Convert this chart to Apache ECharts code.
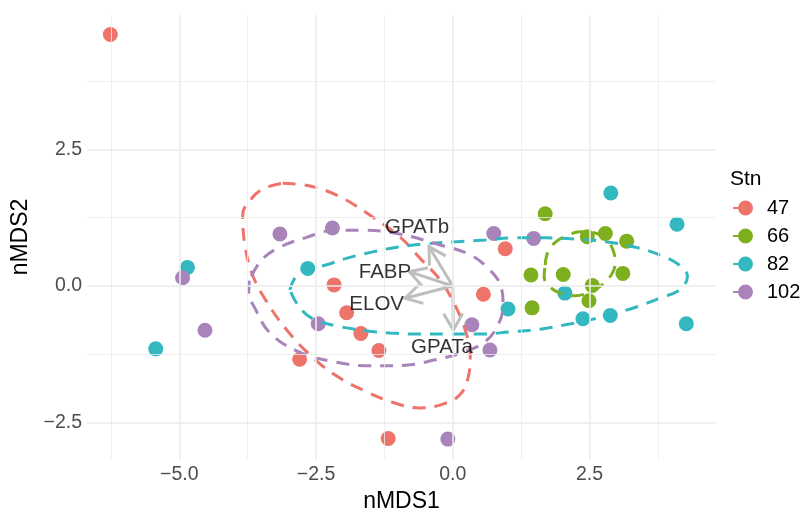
<!DOCTYPE html>
<html>
<head>
<meta charset="utf-8">
<script src="https://cdn.jsdelivr.net/npm/echarts@6/dist/echarts.min.js"></script>
<style>
  html, body { margin: 0; padding: 0; background: #fff; }
  #chart { width: 803px; height: 509px; }
</style>
</head>
<body>
<div id="chart"></div>
<script>
// station groups
const stations = ["47", "66", "82", "102"];
const colors = ["#EE736B", "#7EAF1F", "#33B8C0", "#A884BA"];

// nMDS scores per station
const x47 = [-6.26, 0.96, -2.17, 0.56, -1.94, -1.68, -1.35, -2.80, -1.18];
const y47 = [4.60, 0.68, 0.02, -0.15, -0.49, -0.87, -1.18, -1.34, -2.79];
const x66 = [1.69, 2.46, 2.79, 3.18, 1.43, 2.02, 3.11, 2.55, 2.49, 1.45];
const y66 = [1.32, 0.90, 0.96, 0.82, 0.20, 0.21, 0.23, 0.01, -0.27, -0.40];
const x82 = [2.89, 4.10, -4.85, -2.65, 2.05, 1.01, 2.38, 2.88, 4.27, -5.43];
const y82 = [1.70, 1.13, 0.34, 0.32, -0.13, -0.42, -0.60, -0.54, -0.69, -1.15];
const x102 = [-3.16, -2.20, 0.75, 1.48, -4.94, -4.53, -2.46, 0.35, 0.68, -0.09];
const y102 = [0.95, 1.06, 0.96, 0.87, 0.15, -0.81, -0.69, -0.71, -1.17, -2.80];

// 95% ellipse outlines (traced)
const ell47X = [-3.11, -2.61, -2.10, -1.55, -0.97, -0.60, -0.23, 0.04, 0.23, 0.32, 0.28, 0.13, -0.18, -0.60, -1.06, -1.61, -2.15, -2.61, -3.03, -3.40, -3.66, -3.80, -3.84, -3.67, -3.44];
const ell47Y = [1.88, 1.83, 1.65, 1.32, 0.90, 0.51, 0.11, -0.35, -0.81, -1.26, -1.68, -1.99, -2.16, -2.23, -2.14, -1.92, -1.63, -1.26, -0.81, -0.29, 0.20, 0.75, 1.30, 1.61, 1.79];
const ell66X = [1.69, 1.74, 1.89, 2.11, 2.33, 2.60, 2.82, 2.93, 2.97, 2.92, 2.73, 2.51, 2.24, 1.96, 1.78, 1.67];
const ell66Y = [0.38, 0.62, 0.81, 0.93, 0.99, 0.97, 0.84, 0.66, 0.44, 0.24, 0.02, -0.11, -0.18, -0.13, -0.02, 0.17];
const ell82X = [-2.98, -2.87, -2.65, -2.37, -1.93, -1.48, -1.02, -0.51, 0.08, 0.59, 1.14, 1.69, 2.24, 2.79, 3.34, 3.83, 4.16, 4.29, 4.16, 3.79, 3.37, 2.93, 2.51, 2.06, 1.60, 1.05, 0.50, -0.05, -0.60, -1.15, -1.64, -2.12, -2.56, -2.81];
const ell82Y = [-0.07, 0.17, 0.33, 0.37, 0.51, 0.62, 0.71, 0.77, 0.81, 0.84, 0.88, 0.88, 0.86, 0.81, 0.71, 0.55, 0.37, 0.18, -0.06, -0.22, -0.38, -0.51, -0.62, -0.71, -0.79, -0.84, -0.88, -0.88, -0.88, -0.86, -0.81, -0.73, -0.60, -0.38];
const ell102X = [-3.72, -3.73, -3.62, -3.34, -2.80, -2.15, -1.51, -0.87, -0.32, 0.13, 0.56, 0.81, 0.92, 0.87, 0.68, 0.32, -0.23, -0.97, -1.61, -2.15, -2.70, -3.16, -3.49];
const ell102Y = [0.10, -0.12, -0.40, -0.86, -1.21, -1.39, -1.46, -1.45, -1.35, -1.23, -1.04, -0.75, -0.35, 0.02, 0.29, 0.57, 0.75, 0.95, 1.02, 1.02, 0.88, 0.71, 0.48];

// gene vectors
const vecNames = ["GPATb", "FABP", "ELOV", "GPATa"];
const vecX = [-0.434, -0.794, -0.873, 0.011];
const vecY = [0.719, 0.262, -0.225, -0.805];
const vecLabelX = [-0.653, -1.239, -1.391, -0.196];
const vecLabelY = [1.070, 0.247, -0.329, -1.125];

// grid breaks
const majorX = [-5, -2.5, 0, 2.5];
const minorX = [-6.25, -3.75, -1.25, 1.25, 3.75];
const majorY = [-2.5, 0, 2.5];
const minorY = [-1.25, 1.25, 3.75];

const FONT = "'Liberation Sans', Arial, Helvetica, sans-serif";
const zip = (xs, ys) => xs.map((v, i) => [v, ys[i]]);
const closed = (xs, ys) => { const p = zip(xs, ys); p.push(p[0]); return p; };
const fmt = (v) => (v < 0 ? "\u2212" : "") + Math.abs(v).toFixed(1);

const pts = [zip(x47, y47), zip(x66, y66), zip(x82, y82), zip(x102, y102)];
const ells = [closed(ell47X, ell47Y), closed(ell66X, ell66Y), closed(ell82X, ell82Y), closed(ell102X, ell102Y)];

const chart = echarts.init(document.getElementById("chart"));

const gridLines = [];
majorX.forEach((v) => gridLines.push({ xAxis: v, lineStyle: { width: 1.6 } }));
minorX.forEach((v) => gridLines.push({ xAxis: v, lineStyle: { width: 0.8 } }));
majorY.forEach((v) => gridLines.push({ yAxis: v, lineStyle: { width: 1.6 } }));
minorY.forEach((v) => gridLines.push({ yAxis: v, lineStyle: { width: 0.8 } }));

const legendIcon = "path://M0,6.5H6V8.5H0Z M5,7.5A7.5,7.5 0 1,1 20,7.5A7.5,7.5 0 1,1 5,7.5Z";

const series = [
    {
        name: "grid",
        type: "line",
        data: [],
        silent: true,
        z: 0,
        markLine: {
            silent: true,
            symbol: "none",
            label: { show: false },
            animation: false,
            lineStyle: { color: "#EBEBEB", type: "solid" },
            data: gridLines,
        },
    },
];

stations.forEach((s, i) => {
    series.push({
        name: s,
        type: "scatter",
        data: pts[i],
        symbolSize: 15,
        itemStyle: { color: colors[i], opacity: 1 },
        z: 2,
    });
});

stations.forEach((s, i) => {
    series.push({
        name: "ellipse " + s,
        type: "line",
        data: ells[i],
        smooth: 0.4,
        showSymbol: false,
        silent: true,
        lineStyle: { color: colors[i], width: 3, type: [13, 9] },
        z: 3,
    });
});

// arrows from the origin
series.push({
    name: "vectors",
    type: "custom",
    data: vecX.map((v, i) => [0, 0, v, vecY[i]]),
    encode: { x: [0, 2], y: [1, 3] },
    silent: true,
    z: 4,
    renderItem: (params, api) => {
        const a = api.coord([api.value(0), api.value(1)]);
        const b = api.coord([api.value(2), api.value(3)]);
        const ang = Math.atan2(b[1] - a[1], b[0] - a[0]);
        const L = 19, t = Math.PI / 6;
        const h1 = [b[0] - L * Math.cos(ang - t), b[1] - L * Math.sin(ang - t)];
        const h2 = [b[0] - L * Math.cos(ang + t), b[1] - L * Math.sin(ang + t)];
        const st = { stroke: "#BEBEBE", lineWidth: 3, fill: null };
        return {
            type: "group",
            children: [
                { type: "polyline", shape: { points: [a, b] }, style: st },
                { type: "polyline", shape: { points: [h1, b, h2] }, style: st },
            ],
        };
    },
});

series.push({
    name: "vector labels",
    type: "scatter",
    data: vecNames.map((n, i) => ({ name: n, value: [vecLabelX[i], vecLabelY[i]] })),
    symbolSize: 0,
    silent: true,
    z: 5,
    label: {
        show: true,
        position: "inside",
        formatter: "{b}",
        color: "#000",
        fontSize: 20.5,
        fontFamily: FONT,
    },
});

chart.setOption({
    animation: false,
    backgroundColor: "#fff",
    title: {
        text: "Stn",
        left: 730,
        top: 169,
        padding: 0,
        textStyle: { fontSize: 21, fontWeight: "normal", color: "#000", fontFamily: FONT },
    },
    legend: {
        data: stations,
        orient: "vertical",
        left: 733,
        top: 198,
        padding: 0,
        itemWidth: 20,
        itemHeight: 15,
        itemGap: 8,
        icon: legendIcon,
        selectedMode: false,
        textStyle: { fontSize: 20, color: "#000", fontFamily: FONT, padding: [0, 0, 0, 9] },
    },
    grid: { left: 87, right: 87, top: 15, bottom: 50, outerBoundsMode: "none", containLabel: false },
    xAxis: {
        type: "value",
        min: -6.687,
        max: 4.813,
        name: "nMDS1",
        nameLocation: "middle",
        nameGap: 26,
        nameTextStyle: { fontSize: 23, color: "#000", fontFamily: FONT },
        axisLine: { show: false },
        axisTick: { show: false },
        splitLine: { show: false },
        axisLabel: {
            customValues: majorX,
            formatter: fmt,
            fontSize: 19.5,
            color: "#4D4D4D",
            fontFamily: FONT,
            margin: 6,
        },
    },
    yAxis: {
        type: "value",
        min: -3.164,
        max: 4.956,
        name: "nMDS2",
        nameLocation: "middle",
        nameGap: 51,
        nameTextStyle: { fontSize: 23, color: "#000", fontFamily: FONT },
        axisLine: { show: false },
        axisTick: { show: false },
        splitLine: { show: false },
        axisLabel: {
            customValues: majorY,
            formatter: fmt,
            fontSize: 19.5,
            color: "#4D4D4D",
            fontFamily: FONT,
            margin: 5,
        },
    },
    series: series,
});
</script>
</body>
</html>
